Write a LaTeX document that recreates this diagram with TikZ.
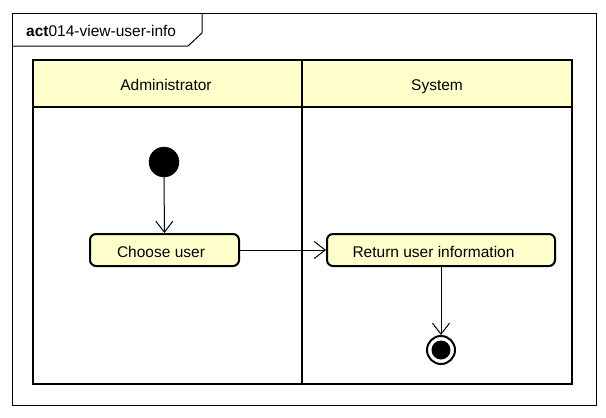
\documentclass[tikz,border=0pt]{standalone}
\usepackage{fontspec}
\setmainfont{Liberation Sans}
\usetikzlibrary{positioning, calc}
\usetikzlibrary{arrows.meta}
\definecolor{laneyellow}{RGB}{255,255,204}
\tikzstyle{actbox}=[draw=black,line width=2pt,fill=laneyellow,rounded corners=6pt,inner sep=0pt,text height=15pt,text depth=0pt,font=\fontsize{15.5}{18}\selectfont]
\tikzstyle{lanehead}=[inner sep=0pt,text height=11pt,text depth=0pt,font=\fontsize{15.5}{18}\selectfont]
\tikzstyle{startdot}=[circle,fill=black,draw=black,minimum size=30pt,inner sep=0pt]
\tikzstyle{flowpath} = [-{Straight Barb[length=11pt,width=17pt]},line width=1pt]

\begin{document}
\begin{tikzpicture}[x=1pt,y=-1pt]
        \useasboundingbox (0,0) rectangle (606,418);
        % frame with tab
        \draw[line width=1pt] (12,13) rectangle (596,405);
        \draw[line width=1pt] (12,46) -- (188,46) -- (202,33) -- (202,13);
        \node[anchor=base west,inner sep=0pt,font=\fontsize{15.5}{18}\selectfont] (title) at (26,36) {\textbf{act}014-view-user-info};

        % swimlanes
        \fill[laneyellow] (33,60) rectangle (572,107);
        \draw[line width=2.5pt] (33,60) rectangle (572,384);
        \draw[line width=2.5pt] (33,107) -- (572,107);
        \draw[line width=2.5pt] (302,60) -- (302,384);
        \node[lanehead] (admin) at (166,85) {Administrator};
        \node[lanehead] (system) at (437,85) {System};

        % activities
        \node[startdot] (start) at (164,162) {};
        \node[actbox, minimum width=149pt, minimum height=32pt] (choose) at (164.5,250) {Choose user\kern7pt};
        \node[actbox, minimum width=228pt, minimum height=32pt] (info) at (441,250) {Return user information\kern15pt};
        \node[circle,draw=black,line width=2pt,minimum size=28pt,inner sep=0pt] (stop) at (441,350) {};
        \node[circle,fill=black,minimum size=19pt,inner sep=0pt] (stopdot) at (stop) {};

        \path[flowpath]
            (start) edge (choose)
            (choose) edge (info)
            (info) edge (stop);
    \end{tikzpicture}
\end{document}
